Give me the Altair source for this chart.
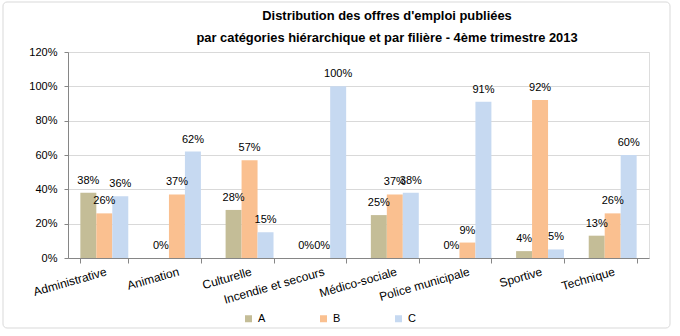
import altair as alt
import pandas as pd

categories = ["Administrative", "Animation", "Culturelle", "Incendie et secours",
              "Médico-sociale", "Police municipale", "Sportive", "Technique"]
series = ["A", "B", "C"]
values_A = [0.38, 0.00, 0.28, 0.00, 0.25, 0.00, 0.04, 0.13]
values_B = [0.26, 0.37, 0.57, 0.00, 0.37, 0.09, 0.92, 0.26]
values_C = [0.36, 0.62, 0.15, 1.00, 0.38, 0.91, 0.05, 0.60]
colors = ["#c4bd97", "#fac090", "#c6d9f1"]
y_ticks = [0, 0.2, 0.4, 0.6, 0.8, 1.0, 1.2]
title_lines = ["Distribution des offres d'emploi publiées",
               "par catégories hiérarchique et par filière - 4ème trimestre 2013"]

rows = []
for s, vals in zip(series, [values_A, values_B, values_C]):
    for c, v in zip(categories, vals):
        rows.append({"filiere": c, "cat": s, "val": v})
df = pd.DataFrame(rows)

FONT = "Liberation Sans"

x_enc = alt.X("filiere:N", sort=categories, title=None,
              scale=alt.Scale(paddingInner=0.34, paddingOuter=0.17),
              axis=alt.Axis(labelAngle=344, labelAlign="right", labelBaseline="top",
                            labelFontSize=12, labelPadding=3, tickBand="extent",
                            tickSize=5, tickColor="#868686", domainColor="#868686",
                            labelColor="#000000", labelFont=FONT, grid=False,
                            labelOverlap=False))
y_enc = alt.Y("val:Q", title=None,
              scale=alt.Scale(domain=[0, 1.2], nice=False),
              axis=alt.Axis(values=y_ticks, format=".0%",
                            labelFontSize=11, labelFont=FONT, labelColor="#000000",
                            tickSize=4, tickColor="#868686", domainColor="#868686",
                            labelPadding=7, gridColor="#d9d9d9", labelOverlap=False))
xoff = alt.XOffset("cat:N", sort=series, scale=alt.Scale(paddingInner=0, paddingOuter=0))

base = alt.Chart(df).encode(x=x_enc, y=y_enc, xOffset=xoff)

bars = base.mark_bar().encode(
    color=alt.Color("cat:N", sort=series,
                    scale=alt.Scale(domain=series, range=colors),
                    legend=alt.Legend(title=None, orient="none", direction="horizontal",
                                      legendX=175, legendY=261, symbolType="square",
                                      symbolSize=49, symbolStrokeWidth=0,
                                      labelFontSize=11, labelFont=FONT,
                                      labelColor="#000000", columnPadding=52,
                                      labelOffset=4, padding=0))
)

labels = base.mark_text(fontSize=11, font=FONT, dy=-9, baseline="alphabetic",
                        color="#000000").encode(
    text=alt.Text("val:Q", format=".0%")
)

frame = alt.Chart(alt.Data(values=[{"f": 1}])).mark_rect(
    fill="transparent", stroke="#d9d9d9", strokeWidth=1, cornerRadius=4
).encode(x=alt.value(-65), x2=alt.value(602), y=alt.value(-50), y2=alt.value(276))

title1 = alt.Chart(alt.Data(values=[{"t": title_lines[0]}])).mark_text(
    font=FONT, fontSize=12.9, fontWeight="bold", color="#000000",
    align="center", baseline="alphabetic"
).encode(text="t:N", x=alt.value(319), y=alt.value(-32))

title2 = alt.Chart(alt.Data(values=[{"t": title_lines[1]}])).mark_text(
    font=FONT, fontSize=12.9, fontWeight="bold", color="#000000",
    align="center", baseline="alphabetic"
).encode(text="t:N", x=alt.value(319), y=alt.value(-10))

chart = alt.layer(frame, bars, labels, title1, title2).properties(
    width=581, height=206,
    autosize=alt.AutoSizeParams(type="none"),
    padding={"left": 68, "top": 52, "right": 31, "bottom": 78},
).configure_view(stroke="transparent").configure(background="white")

chart.save("out.html", embed_options={"renderer": "svg", "actions": False})
